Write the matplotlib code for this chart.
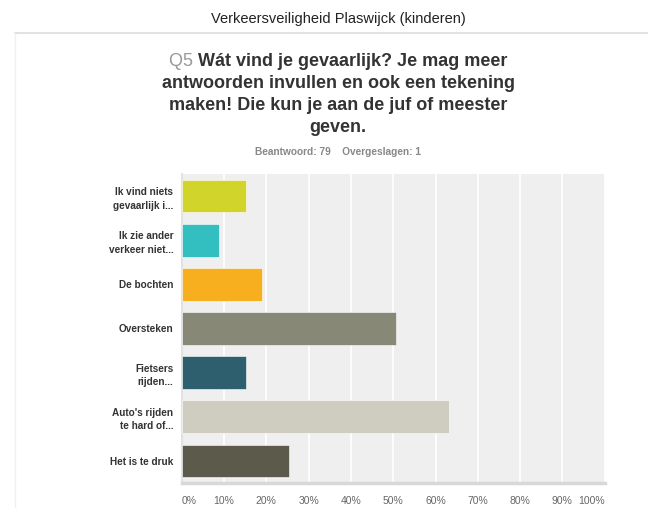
import matplotlib
matplotlib.use("Agg")
import matplotlib.pyplot as plt
from matplotlib.lines import Line2D

plt.rcParams["font.family"] = ["Liberation Sans", "DejaVu Sans"]

labels = [
    "Ik vind niets\ngevaarlijk i...",
    "Ik zie ander\nverkeer niet...",
    "De bochten",
    "Oversteken",
    "Fietsers\nrijden...",
    "Auto's rijden\nte hard of...",
    "Het is te druk",
]
percent = [15.19, 8.86, 18.99, 50.63, 15.19, 63.29, 25.32]
colors = ["#D1D52B", "#33BEBF", "#F7AE1F", "#888876", "#2D5F6E", "#CFCDBF", "#5B5A4B"]
xticks = [0, 10, 20, 30, 40, 50, 60, 70, 80, 90, 100]

W, H = 648, 508
fig = plt.figure(figsize=(W / 100, H / 100), dpi=100)

# card outline
fig.add_artist(Line2D([14.5 / W, 1], [1 - 32.5 / H] * 2, color="#DDDDDD", lw=1.2))
fig.add_artist(Line2D([14.5 / W] * 2, [1 - 32.5 / H, 0], color="#F0F0F0", lw=1.0))

fig.text(338 / W, 1 - 19 / H, "Verkeersveiligheid Plaswijck (kinderen)",
         ha="center", va="center", fontsize=10.5, color="#222222")

title_lines = [
    "Wát vind je gevaarlijk? Je mag meer",
    "antwoorden invullen en ook een tekening",
    "maken! Die kun je aan de juf of meester",
    "geven.",
]
ys = [62, 84, 106, 127]
tsize = 13

# first line: grey "Q5" + bold question, centred together
q = fig.text(0, 1 - ys[0] / H, "Q5 ", ha="left", va="center", fontsize=tsize, color="#999999")
r = fig.text(0, 1 - ys[0] / H, title_lines[0], ha="left", va="center",
             fontsize=tsize, fontweight="bold", color="#333333")
fig.canvas.draw()
qw = q.get_window_extent().width
rw = r.get_window_extent().width
x0 = 338 - (qw + rw) / 2
q.set_x(x0 / W)
r.set_x((x0 + qw) / W)

for line, y in zip(title_lines[1:], ys[1:]):
    fig.text(338 / W, 1 - y / H, line, ha="center", va="center",
             fontsize=tsize, fontweight="bold", color="#333333")

fig.text(338 / W, 1 - 152 / H, "Beantwoord: 79    Overgeslagen: 1", ha="center", va="center",
         fontsize=7.3, fontweight="bold", color="#888888")

ax = fig.add_axes([181.7 / W, 1 - 483 / H, (604.7 - 181.7) / W, (483 - 174) / H])
ax.set_facecolor("#EFEFEF")
y = list(range(len(labels)))
ax.barh(y, percent, height=0.74, color=colors, edgecolor="white", linewidth=0.4, zorder=3)
ax.set_xlim(0, 100)
ax.set_ylim(len(labels) - 0.5, -0.5)
ax.set_xticks(xticks)
ax.set_xticklabels([f"{v}%" for v in xticks], fontsize=7.5, color="#666666")
tl = ax.get_xticklabels()
tl[0].set_ha("left")
tl[-1].set_ha("right")
ax.set_yticks(y)
ax.set_yticklabels(labels, fontsize=7.2, fontweight="bold", color="#333333", linespacing=1.45)
ax.tick_params(length=0)
ax.tick_params(axis="y", pad=6)
ax.tick_params(axis="x", pad=9)
ax.grid(axis="x", color="white", lw=1.2, zorder=1)
for s in ["top", "right"]:
    ax.spines[s].set_visible(False)
ax.spines["bottom"].set_color("#D8D8D8")
ax.spines["bottom"].set_linewidth(2.5)
ax.spines["left"].set_color("#E2E2E2")
ax.spines["left"].set_linewidth(1.5)

fig.savefig("out.png", dpi=100, facecolor="white")
